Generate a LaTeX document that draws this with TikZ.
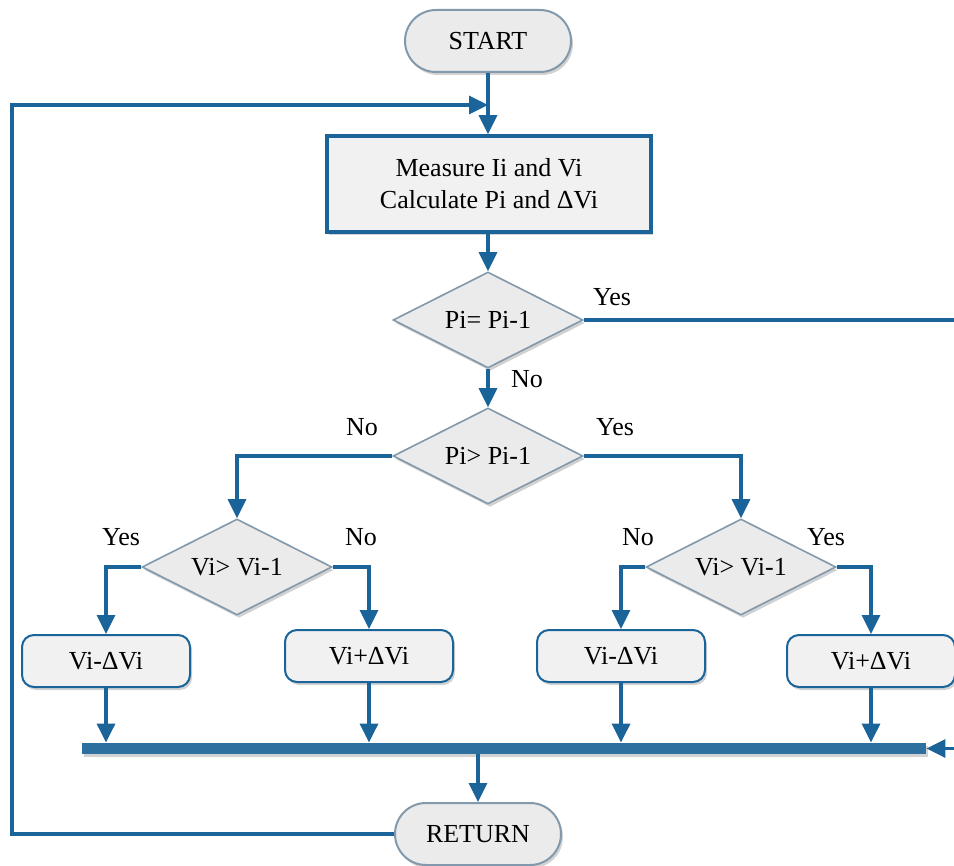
\documentclass[tikz,border=0pt]{standalone}
\usepackage{fontspec}
\newfontfamily\flowfont{Liberation Serif}
\usepackage{tikz}
\usetikzlibrary{arrows.meta,shapes.geometric,shadows}

\definecolor{flowblue}{HTML}{1A6499}
\definecolor{busblue}{HTML}{2D6F9F}
\definecolor{edgegray}{HTML}{8299AC}
\definecolor{boxfill}{HTML}{F1F1F1}
\definecolor{decfill}{HTML}{EBEBEB}

\tikzset{
	softshadow/.style={drop shadow={shadow xshift=1pt, shadow yshift=-1.5pt, opacity=0.25, fill=black!70}},
	terminal/.style={rectangle, draw=edgegray, fill=decfill, line width=1pt, rounded corners=15.5pt,
		minimum width=83pt, minimum height=31pt, softshadow},
	process/.style={rectangle, draw=flowblue, fill=boxfill, line width=1.8pt, align=center,
		minimum width=162pt, minimum height=48pt, softshadow},
	decision/.style={diamond, draw=edgegray, fill=decfill, line width=0.8pt, aspect=2, inner sep=0pt,
		minimum width=95pt, minimum height=48pt, softshadow},
	action/.style={rectangle, draw=flowblue, fill=boxfill, line width=1pt, rounded corners=6pt,
		minimum width=84pt, minimum height=26pt, softshadow},
	flow/.style={draw=flowblue, line width=1.6pt, -{Triangle[length=9.5pt,width=9pt]}},
	label/.style={inner sep=0pt}
}

\begin{document}
\begin{tikzpicture}[x=0.5pt, y=-0.5pt, every node/.style={font=\flowfont\fontsize{13pt}{16pt}\selectfont}]
		\useasboundingbox (0,0) rectangle (954,866);

		% terminals and steps
		\node [terminal] (start) at (488, 41) {START};
		\node [process] (measure) at (489, 184) {Measure Ii and Vi\\Calculate Pi and ΔVi};
		\node [decision] (dec1) at (488, 320) {Pi= Pi-1};
		\node [decision] (dec2) at (488, 456) {Pi> Pi-1};
		\node [decision] (dec3) at (237, 567) {Vi> Vi-1};
		\node [decision] (dec4) at (741, 567) {Vi> Vi-1};
		\node [action] (downA) at (106, 661) {Vi-ΔVi};
		\node [action] (upA) at (369, 656) {Vi+ΔVi};
		\node [action] (downB) at (621, 656) {Vi-ΔVi};
		\node [action] (upB) at (871, 661) {Vi+ΔVi};
		\node [rectangle, fill=busblue, inner sep=0pt, minimum width=422pt, minimum height=5.5pt, softshadow] (bus) at (504, 748.5) {};
		\node [terminal] (return) at (478, 834) {RETURN};

		% branch labels
		\node [label] (yes1) at (612, 297) {Yes};
		\node [label] (no1) at (527, 379) {No};
		\node [label] (no2) at (362, 427) {No};
		\node [label] (yes2) at (615, 427) {Yes};
		\node [label] (yes3) at (121, 537) {Yes};
		\node [label] (no3) at (361, 537) {No};
		\node [label] (no4) at (638, 537) {No};
		\node [label] (yes4) at (826, 537) {Yes};

		% corner points (the right one lies past the page edge)
		\coordinate (looptop) at (12, 105);
		\coordinate (join) at (488, 105);
		\coordinate (righttop) at (980, 320);
		\coordinate (rightbot) at (980, 748.5);

		\draw [flow] (start.south) to (start.south |- measure.north);
		\draw [flow] (measure.south -| dec1.north) to (dec1.north);
		\draw [flow] (dec1.south) to (dec2.north);
		\draw [flow] (dec2.west) -| (dec3.north);
		\draw [flow] (dec2.east) -| (dec4.north);
		\draw [flow] (dec3.west) -| (downA.north);
		\draw [flow] (dec3.east) -| (upA.north);
		\draw [flow] (dec4.west) -| (downB.north);
		\draw [flow] (dec4.east) -| (upB.north);
		\draw [flow] (downA.south) to (downA.south |- bus.north);
		\draw [flow] (upA.south) to (upA.south |- bus.north);
		\draw [flow] (downB.south) to (downB.south |- bus.north);
		\draw [flow] (upB.south) to (upB.south |- bus.north);
		\draw [flow] (bus.south -| return.north) to (return.north);
		\draw [flow] (dec1.east) -- (righttop) -- (rightbot) -- (bus.east);
		\draw [flow] (return.west) -- (return.west -| looptop) -- (looptop) -- (join);
		\end{tikzpicture}
\end{document}
